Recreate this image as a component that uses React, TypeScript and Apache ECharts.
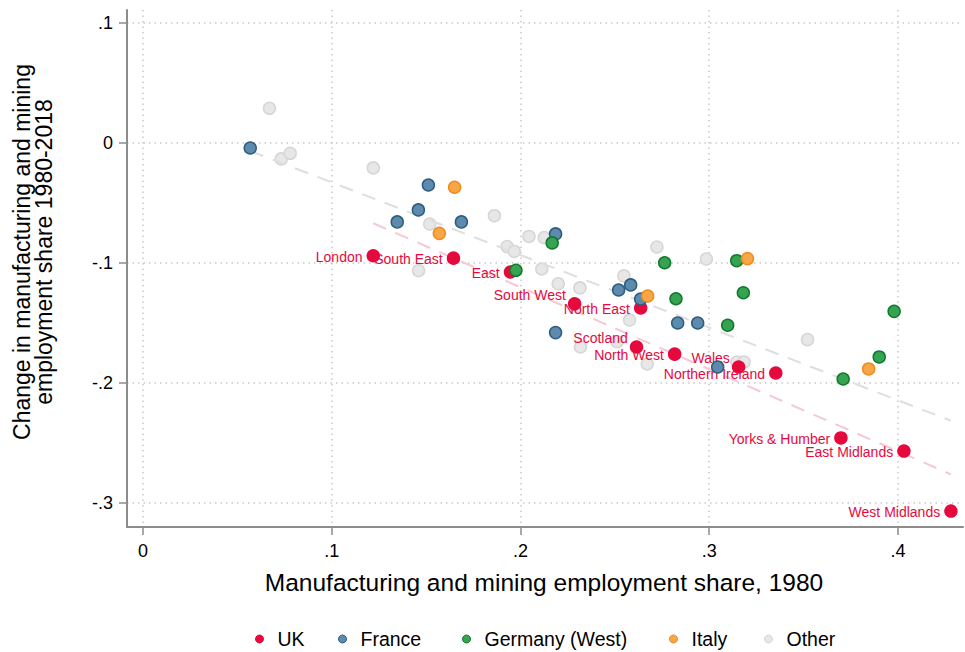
import { useEffect, useRef } from "react";
import * as echarts from "echarts";

const FONT = '"Liberation Sans", Arial, Helvetica, sans-serif';

// UK regions: 1980 manufacturing & mining share and change 1980-2018
const ukRegions = [
  "London", "South East", "East", "South West", "North East", "Scotland",
  "North West", "Wales", "Northern Ireland", "Yorks & Humber", "East Midlands", "West Midlands",
];
const ukShare1980 = [0.122, 0.1645, 0.1947, 0.2287, 0.2637, 0.2615, 0.2817, 0.3156, 0.3353, 0.3698, 0.4032, 0.4281];
const ukChange = [-0.094, -0.096, -0.1075, -0.134, -0.1375, -0.17, -0.176, -0.1867, -0.1917, -0.2458, -0.2567, -0.3067];

const francePoints = [
  [0.0568, -0.0042], [0.1512, -0.035], [0.1459, -0.0558], [0.1347, -0.0658], [0.1687, -0.0658],
  [0.2186, -0.0758], [0.252, -0.1225], [0.2584, -0.1183], [0.2637, -0.13], [0.2186, -0.158],
  [0.2833, -0.15], [0.2939, -0.15], [0.3045, -0.1867],
];
const germanyPoints = [
  [0.1976, -0.1061], [0.2168, -0.0833], [0.2764, -0.0998], [0.3146, -0.0981], [0.3181, -0.1248],
  [0.2824, -0.1298], [0.3098, -0.1519], [0.398, -0.1403], [0.3901, -0.1783], [0.371, -0.1967],
];
const italyPoints = [
  [0.1651, -0.0369], [0.157, -0.0753], [0.2674, -0.1275], [0.3203, -0.0964], [0.3845, -0.1883],
];
const otherPoints = [
  [0.067, 0.0289], [0.0732, -0.0133], [0.078, -0.0086], [0.122, -0.0208], [0.1519, -0.0675],
  [0.1862, -0.0606], [0.1929, -0.0863], [0.1967, -0.0904], [0.146, -0.1064], [0.2045, -0.0779],
  [0.2126, -0.0789], [0.2113, -0.105], [0.22, -0.1173], [0.2315, -0.1208], [0.2723, -0.0867],
  [0.2985, -0.0967], [0.2548, -0.1108], [0.2578, -0.1475], [0.2318, -0.17], [0.2512, -0.1656],
  [0.2672, -0.1842], [0.3146, -0.1825], [0.3185, -0.1825], [0.3521, -0.1639],
];

// Linear fits: all regions, and UK regions only (end points)
const fitAll = [[0.0568, -0.0067], [0.4281, -0.2314]];
const fitUK = [[0.122, -0.0669], [0.4281, -0.2761]];

const xTicks = [0, 0.1, 0.2, 0.3, 0.4];
const yTicks = [0.1, 0, -0.1, -0.2, -0.3];

const legendOrder = ["UK", "France", "Germany (West)", "Italy", "Other"];
// left edge of each legend entry (px)
const legendLeft = [250, 333, 457, 664, 759];

// labels that sit above-left of their marker
const raisedLabels = ["South West", "Scotland", "Wales"];

const stataFmt = (v: number) => {
  const r = Math.round(v * 10) / 10;
  if (r === 0) return "0";
  const s = Math.abs(r).toFixed(1).replace(/^0/, "");
  return (r < 0 ? "-" : "") + s;
};

const UK_RED = "#e5093d";

export default function App() {
  const ref = useRef<HTMLDivElement>(null);

  useEffect(() => {
    if (!ref.current) return;
    const chart = echarts.init(ref.current, undefined, { renderer: "svg" });

    const gridLine = { show: true, lineStyle: { color: "#c9c9c9", width: 1.5, type: [1.5, 4] as number[] } };
    const axisLine = { show: true, onZero: false, lineStyle: { color: "#8c8c8c", width: 2 } };
    const axisTick = { show: true, length: 8, lineStyle: { color: "#8c8c8c", width: 1.5 } };

    const ukData = ukRegions.map((name, i) => {
      const raised = raisedLabels.includes(name);
      return {
        name,
        value: [ukShare1980[i], ukChange[i]],
        label: { offset: raised ? [2, -9] : [0, 1] },
      };
    });

    const markerStyle = (fill: string, border: string) => ({
      color: fill,
      borderColor: border,
      borderWidth: 1.5,
      opacity: 1,
    });

    const legends = legendOrder.map((name, i) => ({
      data: [name],
      icon: "circle",
      left: legendLeft[i],
      top: 624,
      itemWidth: 26,
      itemHeight: 8,
      textStyle: { fontSize: 19.5, color: "#000", fontFamily: FONT },
      itemStyle: { borderWidth: 1 },
    }));

    chart.setOption({
      animation: false,
      backgroundColor: "#ffffff",
      textStyle: { fontFamily: FONT },
      grid: { left: 127, right: 2, top: 10, bottom: 125, containLabel: false },
      xAxis: {
        type: "value",
        min: -0.0085,
        max: 0.4345,
        axisLine,
        axisTick: { ...axisTick, customValues: xTicks },
        axisLabel: {
          customValues: xTicks,
          formatter: stataFmt,
          fontSize: 18,
          color: "#000",
          margin: 15,
          fontFamily: FONT,
        },
        splitLine: gridLine,
      },
      yAxis: {
        type: "value",
        min: -0.32,
        max: 0.1108,
        axisLine,
        axisTick: { ...axisTick, customValues: yTicks },
        axisLabel: {
          customValues: yTicks,
          formatter: stataFmt,
          fontSize: 18,
          color: "#000",
          margin: 14,
          fontFamily: FONT,
        },
        splitLine: gridLine,
      },
      legend: legends,
      graphic: [
        {
          type: "text",
          x: 544,
          y: 582,
          style: {
            text: "Manufacturing and mining employment share, 1980",
            font: `24.5px ${FONT}`,
            fill: "#000",
            align: "center",
            verticalAlign: "middle",
          },
        },
        {
          type: "text",
          x: 33,
          y: 252,
          rotation: Math.PI / 2,
          style: {
            text: "Change in manufacturing and mining\nemployment share 1980-2018",
            font: `23px ${FONT}`,
            lineHeight: 22,
            fill: "#000",
            align: "center",
            verticalAlign: "middle",
          },
        },
      ],
      series: [
        {
          name: "Other",
          type: "scatter",
          symbolSize: 12,
          z: 2,
          itemStyle: markerStyle("#e7e7e7", "#d6d6d6"),
          data: otherPoints,
        },
        {
          name: "fit all",
          type: "line",
          showSymbol: false,
          silent: true,
          z: 3,
          lineStyle: { color: "#dedede", width: 2, type: [14, 10] },
          data: fitAll,
        },
        {
          name: "fit UK",
          type: "line",
          showSymbol: false,
          silent: true,
          z: 3,
          lineStyle: { color: "#f7c7d3", width: 2, type: [14, 10] },
          data: fitUK,
        },
        {
          name: "UK",
          type: "scatter",
          symbolSize: 12,
          z: 4,
          itemStyle: markerStyle(UK_RED, UK_RED),
          label: {
            show: true,
            position: "left",
            distance: 4,
            formatter: "{b}",
            color: UK_RED,
            fontSize: 14,
            fontFamily: FONT,
          },
          data: ukData,
        },
        {
          name: "France",
          type: "scatter",
          symbolSize: 12,
          z: 5,
          itemStyle: markerStyle("#5e8bad", "#2d5e80"),
          data: francePoints,
        },
        {
          name: "Germany (West)",
          type: "scatter",
          symbolSize: 12,
          z: 6,
          itemStyle: markerStyle("#36a352", "#137a2d"),
          data: germanyPoints,
        },
        {
          name: "Italy",
          type: "scatter",
          symbolSize: 12,
          z: 7,
          itemStyle: markerStyle("#f8a748", "#f08c1e"),
          data: italyPoints,
        },
      ],
    });

    return () => chart.dispose();
  }, []);

  return (
    <div
      ref={ref}
      style={{ position: "fixed", left: 0, top: 0, width: 965, height: 652, background: "#fff" }}
    />
  );
}
